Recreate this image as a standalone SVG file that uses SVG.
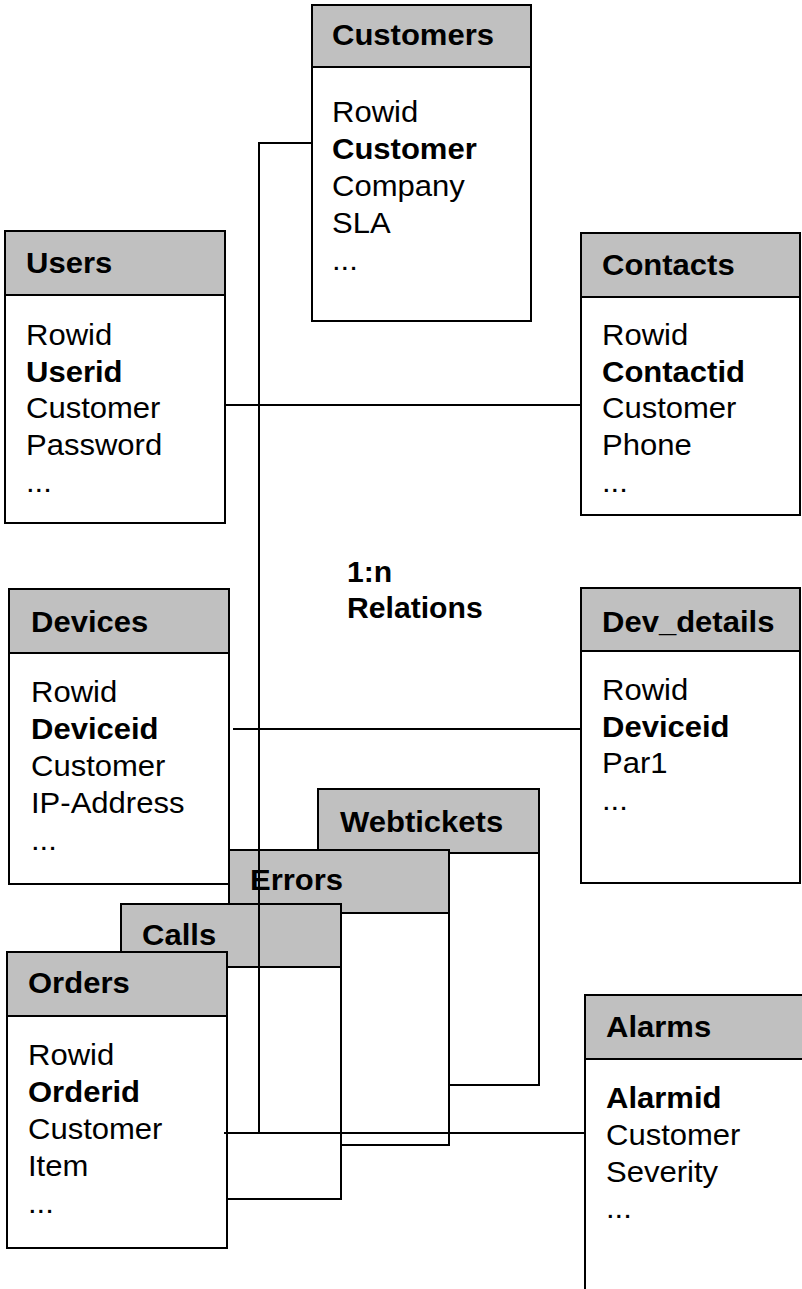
<svg xmlns="http://www.w3.org/2000/svg" width="802" height="1289" viewBox="0 0 802 1289">
<style>
.box{fill:#ffffff;stroke:#000000;stroke-width:2}
.hdr{fill:#c0c0c0;stroke:#000000;stroke-width:2}
.t{font-family:"Liberation Sans",Arial,sans-serif;font-size:29px;fill:#000000}
.b{font-weight:bold}
.conn{fill:none;stroke:#000000;stroke-width:2}
</style>
<rect width="802" height="1289" fill="#ffffff"/>
<g id="customers">
<rect class="box" x="312" y="5" width="219" height="316"/>
<rect class="hdr" x="312" y="5" width="219" height="62"/>
<g transform="translate(332,0) scale(1.07,1)">
<text class="t b" x="0" y="45">Customers</text>
<text class="t" x="0" y="122">Rowid</text>
<text class="t b" x="0" y="159">Customer</text>
<text class="t" x="0" y="196">Company</text>
<text class="t" x="0" y="233">SLA</text>
<text class="t" x="0" y="270">...</text>
</g>
</g>
<g id="users">
<rect class="box" x="5" y="231" width="220" height="292"/>
<rect class="hdr" x="5" y="231" width="220" height="64"/>
<g transform="translate(26,0) scale(1.07,1)">
<text class="t b" x="0" y="273">Users</text>
<text class="t" x="0" y="345">Rowid</text>
<text class="t b" x="0" y="382">Userid</text>
<text class="t" x="0" y="418">Customer</text>
<text class="t" x="0" y="455">Password</text>
<text class="t" x="0" y="492">...</text>
</g>
</g>
<g id="contacts">
<rect class="box" x="581" y="233" width="219" height="282"/>
<rect class="hdr" x="581" y="233" width="219" height="64"/>
<g transform="translate(602,0) scale(1.07,1)">
<text class="t b" x="0" y="275">Contacts</text>
<text class="t" x="0" y="345">Rowid</text>
<text class="t b" x="0" y="382">Contactid</text>
<text class="t" x="0" y="418">Customer</text>
<text class="t" x="0" y="455">Phone</text>
<text class="t" x="0" y="492">...</text>
</g>
</g>
<g id="devices">
<rect class="box" x="9" y="589" width="220" height="295"/>
<rect class="hdr" x="9" y="589" width="220" height="64"/>
<g transform="translate(31,0) scale(1.07,1)">
<text class="t b" x="0" y="632">Devices</text>
<text class="t" x="0" y="702">Rowid</text>
<text class="t b" x="0" y="739">Deviceid</text>
<text class="t" x="0" y="776">Customer</text>
<text class="t" x="0" y="813">IP-Address</text>
<text class="t" x="0" y="850">...</text>
</g>
</g>
<g id="dev_details">
<rect class="box" x="581" y="588" width="219" height="295"/>
<rect class="hdr" x="581" y="588" width="219" height="63"/>
<g transform="translate(602,0) scale(1.07,1)">
<text class="t b" x="0" y="632">Dev_details</text>
<text class="t" x="0" y="700">Rowid</text>
<text class="t b" x="0" y="737">Deviceid</text>
<text class="t" x="0" y="773">Par1</text>
<text class="t" x="0" y="810">...</text>
</g>
</g>
<g id="webtickets">
<rect class="box" x="318" y="789" width="221" height="296"/>
<rect class="hdr" x="318" y="789" width="221" height="64"/>
<g transform="translate(340,0) scale(1.07,1)">
<text class="t b" x="0" y="832">Webtickets</text>
</g>
</g>
<g id="errors">
<rect class="box" x="229" y="850" width="220" height="295"/>
<rect class="hdr" x="229" y="850" width="220" height="63"/>
<g transform="translate(250,0) scale(1.07,1)">
<text class="t b" x="0" y="890">Errors</text>
</g>
</g>
<g id="calls">
<rect class="box" x="121" y="904" width="220" height="295"/>
<rect class="hdr" x="121" y="904" width="220" height="63"/>
<g transform="translate(142,0) scale(1.07,1)">
<text class="t b" x="0" y="945">Calls</text>
</g>
</g>
<g id="orders">
<rect class="box" x="7" y="952" width="220" height="296"/>
<rect class="hdr" x="7" y="952" width="220" height="64"/>
<g transform="translate(28,0) scale(1.07,1)">
<text class="t b" x="0" y="993">Orders</text>
<text class="t" x="0" y="1065">Rowid</text>
<text class="t b" x="0" y="1102">Orderid</text>
<text class="t" x="0" y="1139">Customer</text>
<text class="t" x="0" y="1176">Item</text>
<text class="t" x="0" y="1213">...</text>
</g>
</g>
<g id="alarms">
<rect class="box" x="585" y="995" width="240" height="320"/>
<rect class="hdr" x="585" y="995" width="240" height="64"/>
<g transform="translate(606,0) scale(1.07,1)">
<text class="t b" x="0" y="1037">Alarms</text>
<text class="t b" x="0" y="1108">Alarmid</text>
<text class="t" x="0" y="1145">Customer</text>
<text class="t" x="0" y="1182">Severity</text>
<text class="t" x="0" y="1218">...</text>
</g>
</g>
<g id="connectors">
<path class="conn" d="M312,143 H259 V1134"/>
<path class="conn" d="M225,405 H581"/>
<path class="conn" d="M233,729 H581"/>
<path class="conn" d="M224,1133 H585"/>
</g>
<g id="label" transform="translate(347,0) scale(1.04,1)">
<text class="t b" x="0" y="582">1:n</text>
<text class="t b" x="0" y="618">Relations</text>
</g>
</svg>
